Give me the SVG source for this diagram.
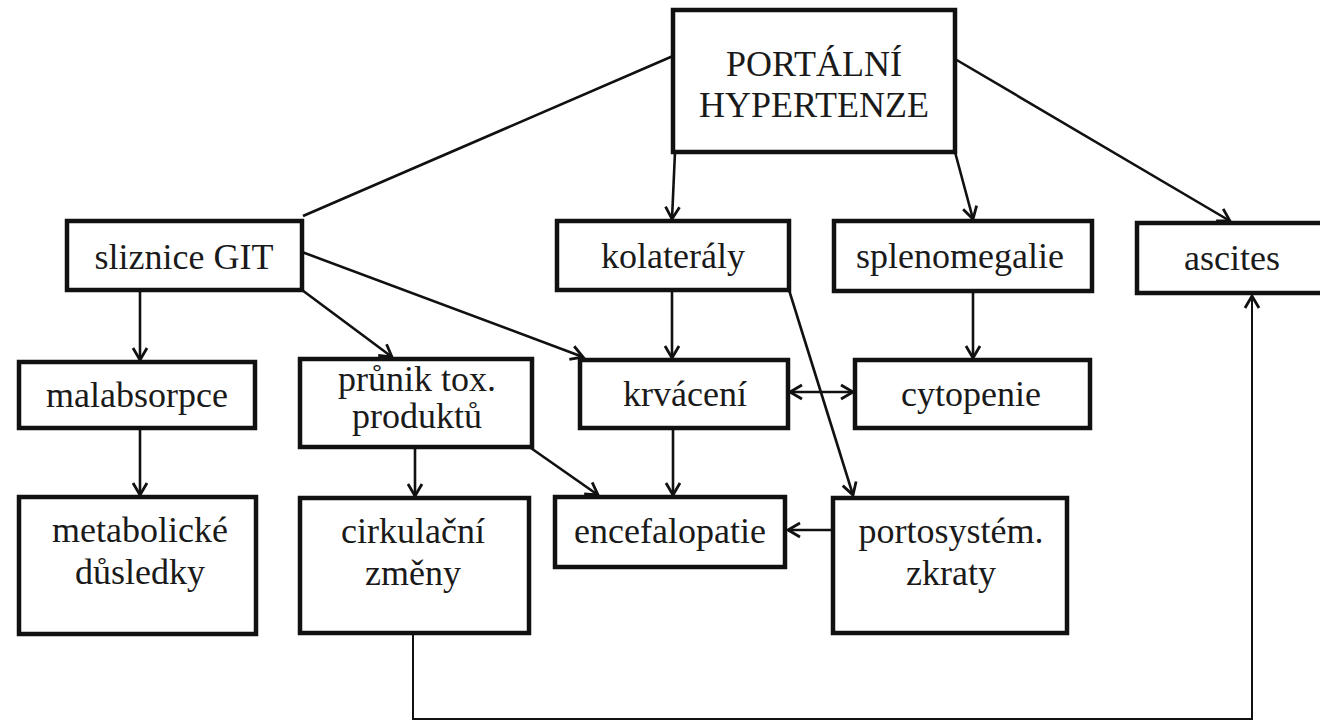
<svg xmlns="http://www.w3.org/2000/svg" width="1320" height="724" viewBox="0 0 1320 724">
<style>
.box{fill:#fff;stroke:#111;stroke-width:4.5}
.t{font-family:"Liberation Serif","Times New Roman",serif;font-size:36px;fill:#1a1a1a;text-anchor:middle}
.c{fill:none;stroke:#111;stroke-width:2.6}
.thin{fill:none;stroke:#111;stroke-width:2}
</style>
<defs>
<marker id="a" markerUnits="userSpaceOnUse" markerWidth="18" markerHeight="18" refX="14" refY="8" orient="auto-start-reverse" viewBox="0 0 18 16">
<path d="M2,1 L14,8 L2,15" fill="none" stroke="#111" stroke-width="2.8"/>
</marker>
</defs>
<rect width="1320" height="724" fill="#fff"/>
<g id="connectors">
<line class="c" x1="673" y1="56" x2="303" y2="216"/>
<line class="c" x1="675" y1="152" x2="672" y2="219" marker-end="url(#a)"/>
<line class="c" x1="955" y1="152" x2="973" y2="219" marker-end="url(#a)"/>
<line class="c" x1="955" y1="59" x2="1230" y2="221" marker-end="url(#a)"/>
<line class="c" x1="140" y1="291" x2="140" y2="360" marker-end="url(#a)"/>
<line class="c" x1="302" y1="290" x2="392" y2="357" marker-end="url(#a)"/>
<line class="c" x1="302" y1="252" x2="583" y2="357" marker-end="url(#a)"/>
<line class="c" x1="672" y1="291" x2="672" y2="358" marker-end="url(#a)"/>
<line class="c" x1="789" y1="290" x2="853" y2="495" marker-end="url(#a)"/>
<line class="c" x1="973" y1="291" x2="973" y2="358" marker-end="url(#a)"/>
<line class="c" x1="790" y1="392" x2="853" y2="392" marker-start="url(#a)" marker-end="url(#a)"/>
<line class="c" x1="140" y1="429" x2="140" y2="495" marker-end="url(#a)"/>
<line class="c" x1="415" y1="448" x2="415" y2="496" marker-end="url(#a)"/>
<line class="c" x1="528" y1="446" x2="598" y2="495" marker-end="url(#a)"/>
<line class="c" x1="673" y1="429" x2="673" y2="495" marker-end="url(#a)"/>
<line class="c" x1="833" y1="530" x2="788" y2="530" marker-end="url(#a)"/>
<polyline class="thin" points="413,634 413,719 1252,719 1252,296" marker-end="url(#a)"/>
</g>
<g id="portalni-hypertenze">
<rect class="box" x="673" y="10" width="282" height="142"/>
<text class="t" x="814" y="76">PORTÁLNÍ</text>
<text class="t" x="814" y="117">HYPERTENZE</text>
</g>
<g id="sliznice-git">
<rect class="box" x="67" y="221" width="235" height="69"/>
<text class="t" x="184" y="269">sliznice GIT</text>
</g>
<g id="kolateraly">
<rect class="box" x="557" y="221" width="232" height="69"/>
<text class="t" x="673" y="268">kolaterály</text>
</g>
<g id="splenomegalie">
<rect class="box" x="834" y="221" width="258" height="70"/>
<text class="t" x="960" y="268">splenomegalie</text>
</g>
<g id="ascites">
<rect class="box" x="1137" y="223" width="190" height="70"/>
<text class="t" x="1232" y="270">ascites</text>
</g>
<g id="malabsorpce">
<rect class="box" x="19" y="362" width="236" height="66"/>
<text class="t" x="137" y="407">malabsorpce</text>
</g>
<g id="prunik">
<rect class="box" x="300" y="359" width="232" height="88"/>
<text class="t" x="417" y="391">průnik tox.</text>
<text class="t" x="417" y="428">produktů</text>
</g>
<g id="krvaceni">
<rect class="box" x="580" y="360" width="208" height="68"/>
<text class="t" x="685" y="406">krvácení</text>
</g>
<g id="cytopenie">
<rect class="box" x="855" y="360" width="235" height="68"/>
<text class="t" x="971" y="406">cytopenie</text>
</g>
<g id="metabolicke">
<rect class="box" x="19" y="497" width="237" height="137"/>
<text class="t" x="140" y="542">metabolické</text>
<text class="t" x="140" y="584">důsledky</text>
</g>
<g id="cirkulacni">
<rect class="box" x="300" y="498" width="229" height="135"/>
<text class="t" x="413" y="543">cirkulační</text>
<text class="t" x="413" y="585">změny</text>
</g>
<g id="encefalopatie">
<rect class="box" x="555" y="497" width="230" height="70"/>
<text class="t" x="670" y="543">encefalopatie</text>
</g>
<g id="portosystem">
<rect class="box" x="833" y="498" width="234" height="135"/>
<text class="t" x="951" y="543">portosystém.</text>
<text class="t" x="951" y="585">zkraty</text>
</g>
</svg>
